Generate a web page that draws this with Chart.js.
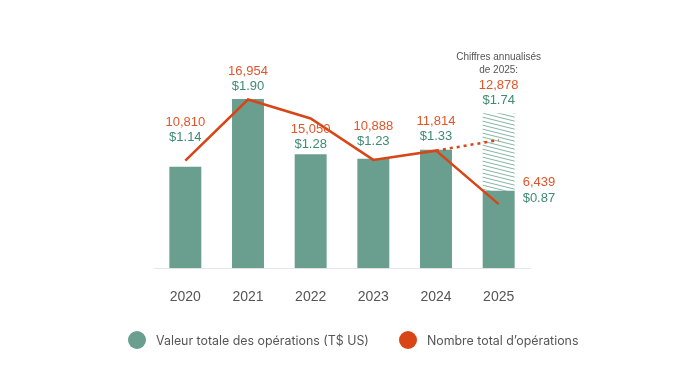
<!DOCTYPE html>
<html>
<head>
<meta charset="utf-8">
<script src="https://cdn.jsdelivr.net/npm/chart.js@4.4.1/dist/chart.umd.min.js"></script>
<style>
    html, body { margin: 0; padding: 0; background: #fff; }
    #wrap { position: relative; width: 700px; height: 386px; }
    #chart { position: absolute; left: 0; top: 0; }
    .legend { position: absolute; left: 128px; top: 331px; display: flex; align-items: center;
              font-family: Inter, "Liberation Sans", sans-serif; font-size: 12.4px; color: #555; }
    .legend .item { display: flex; align-items: center; margin-right: 30px; }
    .legend .dot { width: 18px; height: 18px; border-radius: 50%; margin-right: 10px; }
</style>
</head>
<body>
<div id="wrap">
    <canvas id="chart" width="700" height="386"></canvas>
    <div class="legend">
        <div class="item"><span class="dot" style="background:#6a9e8e"></span>Valeur totale des opérations (T$ US)</div>
        <div class="item"><span class="dot" style="background:#d84618"></span>Nombre total d’opérations</div>
    </div>
</div>
<script>
// data
const years = ['2020', '2021', '2022', '2023', '2024', '2025'];
const dealValue = [1.14, 1.90, 1.28, 1.23, 1.33, 0.87];      // T$ US
const dealValueAnnualized = [null, null, null, null, null, 1.74];
const dealCount = [10810, 16954, 15050, 10888, 11814, 6439];
const dealCountAnnualized = [null, null, null, null, 11814, 12878];
const noteLines = ['Chiffres annualisés', 'de 2025:'];

// layout of the value labels (px above the bar top)
const labelLift = [29, 13, 10, 17, 13];

const GREEN = '#6a9e8e';
const ORANGE = '#d84618';
const LABEL_GREEN = '#3f8b72';
const LABEL_ORANGE = '#e0552b';
const FONT = '"Liberation Sans", Arial, sans-serif';

function hatchPattern() {
    const c = document.createElement('canvas');
    c.width = 16;
    c.height = 4;
    const g = c.getContext('2d');
    g.strokeStyle = '#86b4a6';
    g.lineWidth = 1;
    for (let k = -1; k <= 1; k++) {
        g.beginPath();
        g.moveTo(0, k * 4 + 0.5);
        g.lineTo(16, k * 4 + 4.5);
        g.stroke();
    }
    return g.createPattern(c, 'repeat');
}

const valueLabels = {
    id: 'valueLabels',
    afterDatasetsDraw(chart) {
        const ctx = chart.ctx;
        const bars = chart.getDatasetMeta(0).data;
        const proj = chart.getDatasetMeta(1).data;
        const fmt = n => n.toLocaleString('en-US');
        ctx.save();
        ctx.font = '13px ' + FONT;
        ctx.textBaseline = 'middle';

        bars.forEach((bar, i) => {
            if (i === years.length - 1) {
                // partial year: labels to the right of the bar
                ctx.textAlign = 'left';
                const x = bar.x + bar.width / 2 + 8;
                ctx.fillStyle = LABEL_ORANGE;
                ctx.fillText(fmt(dealCount[i]), x, bar.y - 8);
                ctx.fillStyle = LABEL_GREEN;
                ctx.fillText('$' + dealValue[i].toFixed(2), x, bar.y + 8);
                return;
            }
            ctx.textAlign = 'center';
            const y = bar.y - labelLift[i];
            ctx.fillStyle = LABEL_GREEN;
            ctx.fillText('$' + dealValue[i].toFixed(2), bar.x, y);
            ctx.fillStyle = LABEL_ORANGE;
            ctx.fillText(fmt(dealCount[i]), bar.x, y - 15);
        });

        // annualized labels above the hatched bar
        const i = years.length - 1;
        const p = proj[i];
        ctx.textAlign = 'center';
        ctx.fillStyle = LABEL_GREEN;
        ctx.fillText('$' + dealValueAnnualized[i].toFixed(2), p.x, p.y - 13);
        ctx.fillStyle = LABEL_ORANGE;
        ctx.fillText(fmt(dealCountAnnualized[i]), p.x, p.y - 28);
        ctx.font = '10px ' + FONT;
        ctx.fillStyle = '#555';
        ctx.fillText(noteLines[0], p.x, p.y - 56);
        ctx.fillText(noteLines[1], p.x, p.y - 43);
        ctx.restore();
    }
};

const ctx = document.getElementById('chart').getContext('2d');
new Chart(ctx, {
    type: 'bar',
    data: {
        labels: years,
        datasets: [
            {
                label: 'Valeur totale des opérations (T$ US)',
                data: dealValue,
                backgroundColor: GREEN,
                grouped: false,
                order: 2,
                yAxisID: 'y'
            },
            {
                label: 'Annualisé',
                data: dealValueAnnualized.map((v, i) => v === null ? null : [dealValue[i], v]),
                backgroundColor: hatchPattern(),
                grouped: false,
                order: 3,
                yAxisID: 'y'
            },
            {
                type: 'line',
                label: 'Nombre total d’opérations',
                data: dealCount,
                borderColor: ORANGE,
                borderWidth: 2.5,
                pointRadius: 0,
                tension: 0,
                order: 0,
                yAxisID: 'y2'
            },
            {
                type: 'line',
                label: 'Annualisé (nombre)',
                data: dealCountAnnualized,
                borderColor: ORANGE,
                borderWidth: 2.5,
                borderDash: [3, 4],
                pointRadius: 0,
                tension: 0,
                order: 1,
                yAxisID: 'y2'
            }
        ]
    },
    options: {
        responsive: false,
        animation: false,
        layout: {
            padding: { left: 154, right: 170, top: 40, bottom: 67 }
        },
        datasets: {
            bar: { barPercentage: 0.51, categoryPercentage: 1 }
        },
        plugins: {
            legend: { display: false },
            tooltip: { enabled: false }
        },
        scales: {
            x: {
                grid: { display: false },
                border: { display: true, color: '#e6e6e6', width: 1 },
                ticks: {
                    color: '#555',
                    padding: 13,
                    font: { family: FONT, size: 14 }
                }
            },
            y: {
                display: false,
                min: 0,
                max: 2.563
            },
            y2: {
                display: false,
                min: 0,
                max: 22937
            }
        }
    },
    plugins: [valueLabels]
});
</script>
</body>
</html>
